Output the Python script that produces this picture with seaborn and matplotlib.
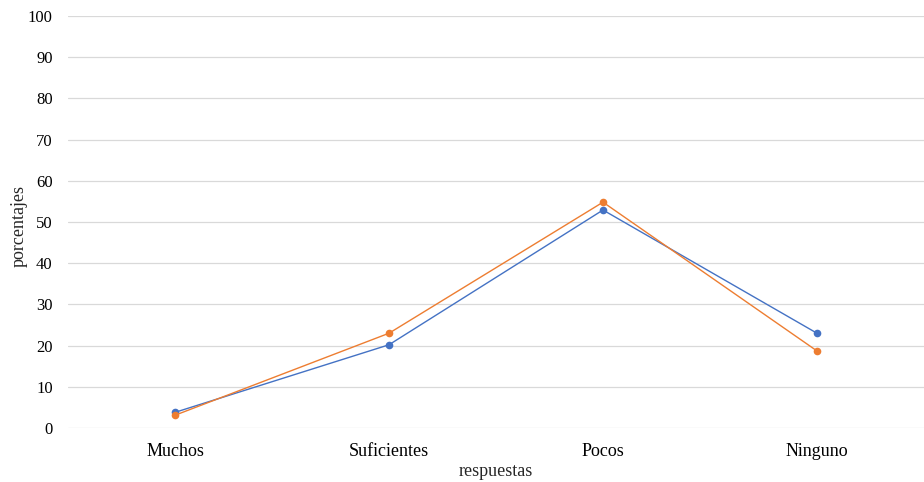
import pandas as pd
import matplotlib
matplotlib.use('Agg')
import matplotlib.pyplot as plt
import seaborn as sns

# values
respuestas = ['Muchos', 'Suficientes', 'Pocos', 'Ninguno']
serie_azul = [3.8, 20.2, 52.9, 23.0]
serie_naranja = [3.1, 23.0, 54.8, 18.7]

df = pd.DataFrame({
    'respuestas': respuestas * 2,
    'porcentajes': serie_azul + serie_naranja,
    'serie': ['azul'] * 4 + ['naranja'] * 4,
})

sns.set_style('white')
plt.rcParams['font.family'] = ['Liberation Serif', 'DejaVu Serif']

fig = plt.figure(figsize=(9.24, 4.82), dpi=100)
ax = fig.add_axes([0.0736, 0.112, 0.9264, 0.855])

sns.lineplot(data=df, x='respuestas', y='porcentajes', hue='serie', sort=False,
             palette={'azul': '#4472C4', 'naranja': '#ED7D31'},
             marker='o', markersize=5.5, markeredgewidth=0, linewidth=1,
             legend=False, ax=ax)

ax.set_xlim(-0.5, 3.5)
ax.set_ylim(0, 100)
ax.set_yticks(range(0, 101, 10))
ax.grid(axis='y', color='#D9D9D9', linewidth=0.9)
ax.set_axisbelow(True)
for s in ax.spines.values():
    s.set_visible(False)
ax.tick_params(axis='both', length=0, colors='#000000')
ax.tick_params(axis='y', pad=11, labelsize=12)
ax.tick_params(axis='x', pad=11, labelsize=13)
ax.set_xlabel('respuestas', fontsize=13)
ax.set_ylabel('porcentajes', fontsize=13)
ax.yaxis.set_label_coords(-0.047, 0.49)
ax.xaxis.set_label_coords(0.5, -0.085)

fig.savefig('out.png', dpi=100)
